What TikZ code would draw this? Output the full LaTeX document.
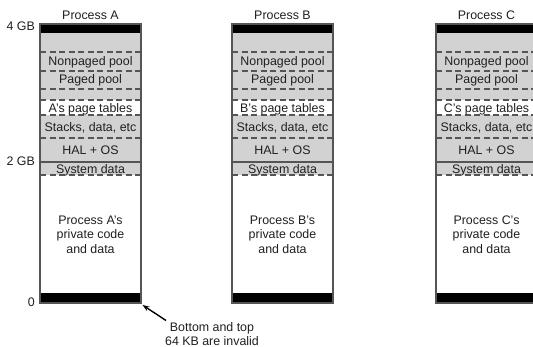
\documentclass[tikz,border=0pt]{standalone}
\usepackage{fontspec}
\setmainfont{Liberation Sans}
\usetikzlibrary{arrows.meta}
\definecolor{memgray}{RGB}{210,210,210}
\definecolor{edgegray}{RGB}{85,85,85}
\begin{document}
\begin{tikzpicture}[x=1pt,y=-1pt,
  lbl/.style={font=\fontsize{12.4}{14.4}\selectfont, inner sep=0pt, text=black!88},
  dline/.style={draw=edgegray, line width=1.1pt, dash pattern=on 6pt off 3.5pt},
  sline/.style={draw=edgegray, line width=1.2pt},
  frame/.style={draw=edgegray, line width=1.6pt},
  bar/.style={fill=black}
]
\useasboundingbox (0,0) rectangle (533,347);
\clip (0,0) rectangle (533,347);
\foreach \x/\p in {40/A,232/B,436/C}{
  \fill[memgray] (\x,33) rectangle ++(101,142);
  \fill[white] (\x,100) rectangle ++(101,15);
  \draw[dline] (\x,52) -- ++(101,0);
  \draw[dline] (\x,71) -- ++(101,0);
  \draw[dline] (\x,89) -- ++(101,0);
  \draw[dline] (\x,100) -- ++(101,0);
  \draw[dline] (\x,115) -- ++(101,0);
  \draw[dline] (\x,138) -- ++(101,0);
  \draw[sline] (\x,162) -- ++(101,0);
  \draw[dline] (\x,175) -- ++(101,0);
  \fill[bar] (\x,24) rectangle ++(101,9);
  \fill[bar] (\x,293) rectangle ++(101,10);
  \draw[frame] (\x,24) rectangle ++(101,279);
  \node[lbl, anchor=base] (title\p) at (\x+50.5,19.3) {Process \p};
  \node[lbl, anchor=base] (np\p) at (\x+50.5,66) {Nonpaged pool};
  \node[lbl, anchor=base] (pp\p) at (\x+50.5,84) {Paged pool};
  \node[lbl, anchor=base] (pt\p) at (\x+50.5,112.3) {\p's page tables};
  \node[lbl, anchor=base] (st\p) at (\x+50.5,131.3) {Stacks, data, etc};
  \node[lbl, anchor=base] (hal\p) at (\x+50.5,155) {HAL + OS};
  \node[lbl, anchor=base] (sd\p) at (\x+50.5,173.3) {System data};
  \node[lbl, align=center] (priv\p) at (\x+50.5,234.5) {Process \p's\\private code\\and data};
}
\node[lbl, anchor=base east] (gb4) at (35,30.7) {4 GB};
\node[lbl, anchor=base east] (gb2) at (35,165.7) {2 GB};
\node[lbl, anchor=base east] (gb0) at (35,307) {0};
\node[lbl, align=center] (note) at (212,334) {Bottom and top\\64 KB are invalid};
\coordinate (corner) at (142.5,305);
\coordinate (tail) at (166,320.5);
\draw[line width=1.4pt, -{Stealth[length=7pt,width=5pt]}] (tail) -- (corner);
\end{tikzpicture}
\end{document}
